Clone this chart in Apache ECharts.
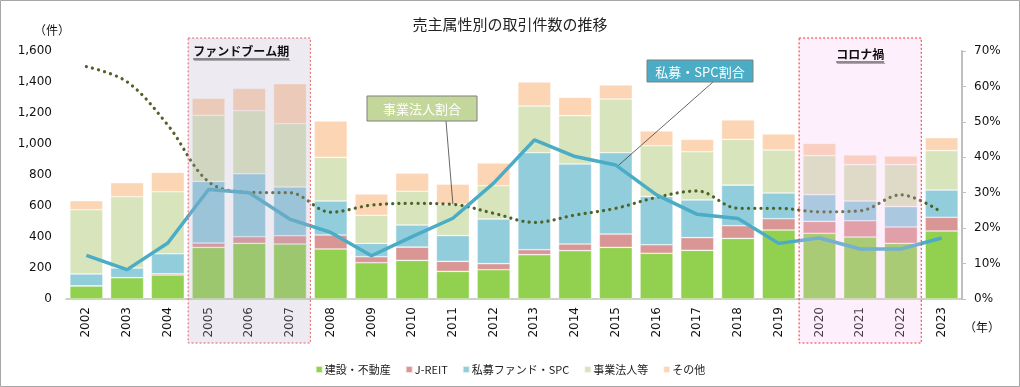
<!DOCTYPE html>
<html><head><meta charset="utf-8">
<script src="https://cdn.jsdelivr.net/npm/echarts@6/dist/echarts.min.js"></script>
<style>html,body{margin:0;padding:0;background:#fff}#c{width:1020px;height:387px}</style>
</head><body><div id="c"></div>
<script>
const years = ['2002','2003','2004','2005','2006','2007','2008','2009','2010','2011','2012','2013','2014','2015','2016','2017','2018','2019','2020','2021','2022','2023'];
const construction = [85,138,155,333,359,355,323,234,249,178,189,286,312,333,295,314,391,445,424,400,359,439];
const jreit = [0,0,8,28,43,53,90,39,86,65,39,32,43,86,55,82,82,73,77,105,106,88];
const fundSpc = [76,62,129,398,406,315,219,86,142,166,288,626,516,525,312,243,262,166,172,127,131,176];
const business = [415,460,400,426,407,408,282,181,218,202,215,301,312,346,327,311,295,277,252,235,271,254];
const other = [58,90,125,110,144,258,234,137,116,129,146,155,118,91,95,80,125,104,79,62,56,84];
const fundRatio = [12.3,8.3,15.8,30.9,30.0,22.5,18.8,12.2,17.6,22.8,32.7,44.9,40.2,37.8,29.4,23.9,22.7,15.7,17.2,14.1,14.1,17.2];
const businessRatio = [65.6,61.3,49.1,33.1,30.1,30.0,24.5,26.5,27.0,26.7,24.2,21.6,23.7,25.6,28.7,30.5,25.6,25.6,24.6,24.9,29.4,24.5];
const seriesNames = ['建設・不動産','J-REIT','私募ファンド・SPC','事業法人等','その他'];
const leftTicks = [0,200,400,600,800,1000,1200,1400,1600];
const rightTicks = [0,10,20,30,40,50,60,70];

const FONT = "'DejaVu Sans','Noto Sans CJK JP',sans-serif";
const colors = ['#92d050','#da9694','#92cddc','#d8e4bc','#fcd5b4'];
const stacks = [construction, jreit, fundSpc, business, other];

const chart = echarts.init(document.getElementById('c'), null, {renderer:'canvas'});
const barSeries = stacks.map((d,i)=>({
  name: seriesNames[i], type:'bar', stack:'total', data:d, barCategoryGap:'19%',
  itemStyle:{color:colors[i], borderColor:'rgba(255,255,255,0.7)', borderWidth:0.6},
  emphasis:{disabled:true}
}));
chart.setOption({
  animation:false,
  textStyle:{fontFamily:FONT},
  title:{text:'売主属性別の取引件数の推移', left:'center', top:12,
    textStyle:{fontFamily:"'Noto Sans CJK JP',sans-serif", fontSize:15, fontWeight:'normal', color:'#222'}},
  grid:{left:66, right:58, top:51, bottom:88},
  legend:{bottom:7, left:'center', itemWidth:7, itemHeight:7, itemGap:14, icon:'rect',
    data:seriesNames, textStyle:{fontFamily:"'Noto Sans CJK JP',sans-serif", fontSize:11, color:'#222', padding:[0,0,0,-3]}},
  xAxis:{type:'category', data:years,
    axisLine:{lineStyle:{color:'#bfbfbf', width:1.5}}, axisTick:{show:false},
    axisLabel:{rotate:90, fontSize:12, color:'#111', margin:8, fontFamily:FONT}},
  yAxis:[
    {type:'value', min:0, max:1600, interval:200, splitLine:{show:false},
     axisLine:{show:false}, axisTick:{show:false},
     axisLabel:{fontSize:12, color:'#111', margin:14, fontFamily:FONT,
       formatter:v=>leftTicks.includes(v)?v.toLocaleString('en-US'):''}},
    {type:'value', min:0, max:70, interval:10, splitLine:{show:false}, position:'right',
     axisLine:{show:true, lineStyle:{color:'#bfbfbf', width:2}},
     axisTick:{show:true, length:4, lineStyle:{color:'#bfbfbf'}},
     axisLabel:{fontSize:12, color:'#111', margin:12, fontFamily:FONT,
       formatter:v=>rightTicks.includes(v)?v+'%':''}}
  ],
  series:[...barSeries,
    {name:'事業法人割合', type:'line', yAxisIndex:1, data:businessRatio, smooth:0.35, showSymbol:false,
     lineStyle:{color:'#4f6228', width:3.2, type:[0.1,6.2], cap:'round'}, z:3},
    {name:'私募・SPC割合', type:'line', yAxisIndex:1, data:fundRatio, smooth:false, showSymbol:false,
     lineStyle:{color:'#4bacc6', width:3.5}, z:4}
  ]
});

const px = c => chart.convertToPixel({xAxisIndex:0}, c);
const pyL = v => chart.convertToPixel({yAxisIndex:0}, v);
const pyR = v => chart.convertToPixel({yAxisIndex:1}, v);
const band = px('2003') - px('2002');
const rTop = pyL(1600) - 13, rBottom = pyL(0) + 44;
const cv = document.createElement('canvas').getContext('2d');
function tw(t, f){ cv.font = f; return cv.measureText(t).width; }

function region(a, b, fill, stroke, label, centered, ly){
  const x1 = px(a) - band/2, x2 = px(b) + band/2;
  const f = "bold 12px 'Noto Sans CJK JP'";
  const w = tw(label, f);
  const lx = centered ? (x1+x2)/2 - w/2 : x1 + 5;
  return [
    {type:'rect', z:50, shape:{x:x1, y:rTop, width:x2-x1, height:rBottom-rTop},
     style:{fill:fill, stroke:stroke, lineWidth:1, lineDash:[2,2]}},
    {type:'text', z:60, style:{x:lx, y:ly, text:label, font:f, fill:'#111', verticalAlign:'middle'}},
    {type:'line', z:60, shape:{x1:lx, y1:ly+8, x2:lx+w, y2:ly+8}, style:{stroke:'#222', lineWidth:1}},
    {type:'line', z:59, shape:{x1:lx+1, y1:ly+9.5, x2:lx+w+1, y2:ly+9.5}, style:{stroke:'#aaa', lineWidth:1.2}}
  ];
}
function callout(bx, by, bw, bh, fill, text, ax, ay, tx, ty){
  return [
    {type:'line', z:70, shape:{x1:ax, y1:ay, x2:tx, y2:ty}, style:{stroke:'#404040', lineWidth:0.8}},
    {type:'rect', z:70, shape:{x:bx, y:by, width:bw, height:bh}, style:{fill:fill, stroke:'#7f7f7f', lineWidth:1}},
    {type:'text', z:71, style:{x:bx+bw/2, y:by+bh/2+1, text:text, fill:'#fff',
      font:"13px 'Noto Sans CJK JP'", align:'center', verticalAlign:'middle'}}
  ];
}
const i11 = years.indexOf('2011'), i15 = years.indexOf('2015');
const graphics = [
  {type:'rect', z:100, shape:{x:0.5, y:0.5, width:1019, height:386}, style:{fill:null, stroke:'#a6a6a6', lineWidth:1}},
  ...region('2005','2007','rgba(186,170,202,0.25)','#e06060','ファンドブーム期', false, 51),
  ...region('2020','2022','rgba(246,190,238,0.24)','#ff2a2a','コロナ禍', true, 54),
  ...callout(367, 96, 110, 25, '#c4d79b', '事業法人割合', 446, 121, px('2011'), pyR(businessRatio[i11])),
  ...callout(647, 60, 106, 22, '#4bacc6', '私募・SPC割合', 713, 82, px('2015')+3, pyR(fundRatio[i15])),
  {type:'text', z:60, style:{x:34, y:30, text:'（件）', font:"12px 'Noto Sans CJK JP'", fill:'#111', verticalAlign:'middle'}},
  {type:'text', z:60, style:{x:964, y:327, text:'（年）', font:"12px 'Noto Sans CJK JP'", fill:'#111', verticalAlign:'middle'}}
];
chart.setOption({graphic:graphics});
</script></body></html>
